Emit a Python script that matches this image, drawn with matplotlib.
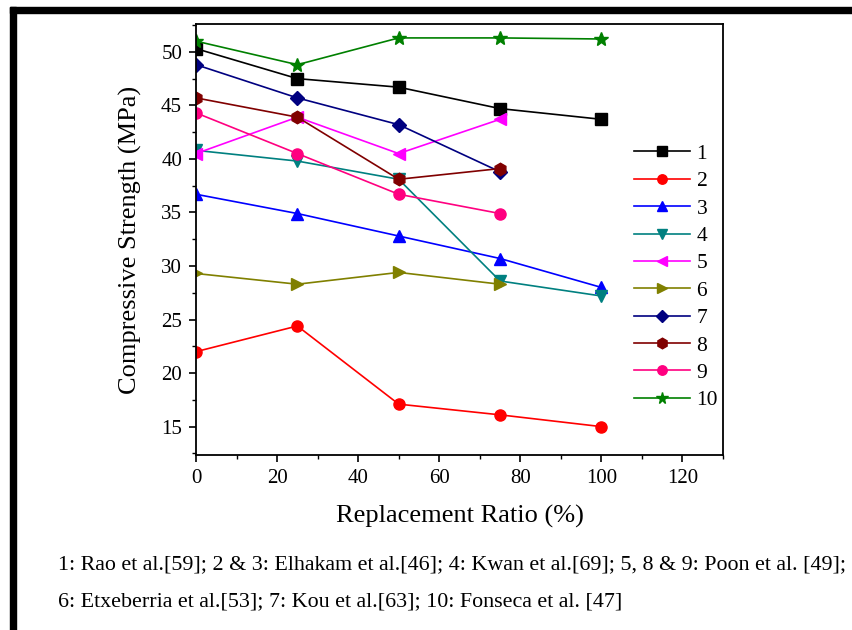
import matplotlib.pyplot as plt
import matplotlib
from matplotlib.patches import Rectangle
from matplotlib.ticker import MultipleLocator

matplotlib.rc("font", family="Liberation Serif", size=15)

####################################################
# Data

ratio = [0, 25, 50, 75, 100]

s1 = [50.3, 47.5, 46.7, 44.7, 43.7]
s2 = [22.0, 24.4, 17.1, 16.1, 15.0]
s3 = [36.7, 34.9, 32.8, 30.7, 28.0]
s4 = [40.8, 39.8, 38.1, 28.6, 27.2]
s5 = [40.5, 43.9, 40.5, 43.7]
s6 = [29.3, 28.3, 29.4, 28.3]
s7 = [48.8, 45.7, 43.2, 38.8]
s8 = [45.7, 43.9, 38.1, 39.1]
s9 = [44.3, 40.5, 36.7, 34.9]
s10 = [51.0, 48.8, 51.3, 51.3, 51.2]

labels = ["1", "2", "3", "4", "5", "6", "7", "8", "9", "10"]
series = [s1, s2, s3, s4, s5, s6, s7, s8, s9, s10]

colors = ["#000000", "#ff0000", "#0000ff", "#008080", "#ff00ff",
          "#808000", "#000080", "#800000", "#ff0080", "#008000"]
markers = ["s", "o", "^", "v", "<", ">", "D", "h", "o", "*"]
msizes = [8, 8, 9, 9, 9, 9, 7, 9, 8, 10]

caption = [
    "1: Rao et al.[59]; 2 & 3: Elhakam et al.[46]; 4: Kwan et al.[69]; 5, 8 & 9: Poon et al. [49];",
    "6: Etxeberria et al.[53]; 7: Kou et al.[63]; 10: Fonseca et al. [47]",
]

####################################################
# Plot

fig = plt.figure(figsize=(8.52, 6.30), dpi=100)
ax = fig.add_axes([196 / 852, 1 - 455 / 630, (723 - 196) / 852, (455 - 24) / 630])

for lab, ys, c, m, ms in zip(labels, series, colors, markers, msizes):
    ax.plot(ratio[:len(ys)], ys, color=c, marker=m, markersize=ms, lw=1.2, label=lab)

ax.set_xlim(0, 130)
ax.set_ylim(12.35, 52.6)
ax.xaxis.set_major_locator(MultipleLocator(20))
ax.xaxis.set_minor_locator(MultipleLocator(10))
ax.yaxis.set_major_locator(MultipleLocator(5))
ax.yaxis.set_minor_locator(MultipleLocator(2.5))
ax.tick_params(which="major", direction="out", length=5, width=1.2, labelsize=15, pad=5)
ax.tick_params(which="minor", direction="out", length=3, width=1.0)
for sp in ax.spines.values():
    sp.set_linewidth(1.3)

ax.set_xlabel("Replacement Ratio (%)", fontsize=19, labelpad=12)
ax.set_ylabel("Compressive Strength (MPa)", fontsize=19, labelpad=14)

ax.legend(loc="upper left", bbox_to_anchor=(0.815, 0.742), frameon=False,
          fontsize=15.5, handlelength=2.6, labelspacing=0.34, handletextpad=0.3,
          borderaxespad=0, markerscale=0.85)

# caption below the chart
fig.text(58 / 852, 1 - 565 / 630, caption[0], fontsize=15.8, va="center", ha="left")
fig.text(58 / 852, 1 - 602 / 630, caption[1], fontsize=15.8, va="center", ha="left")

# thick page border seen on the left and top
fig.patches.append(Rectangle((10 / 852, 0), 6 / 852, 1 - 7 / 630, transform=fig.transFigure,
                             color="black", zorder=10))
fig.patches.append(Rectangle((10 / 852, 1 - 13 / 630), 1, 6 / 630, transform=fig.transFigure,
                             color="black", zorder=10))

plt.savefig("out.png", dpi=100)
plt.close("all")
